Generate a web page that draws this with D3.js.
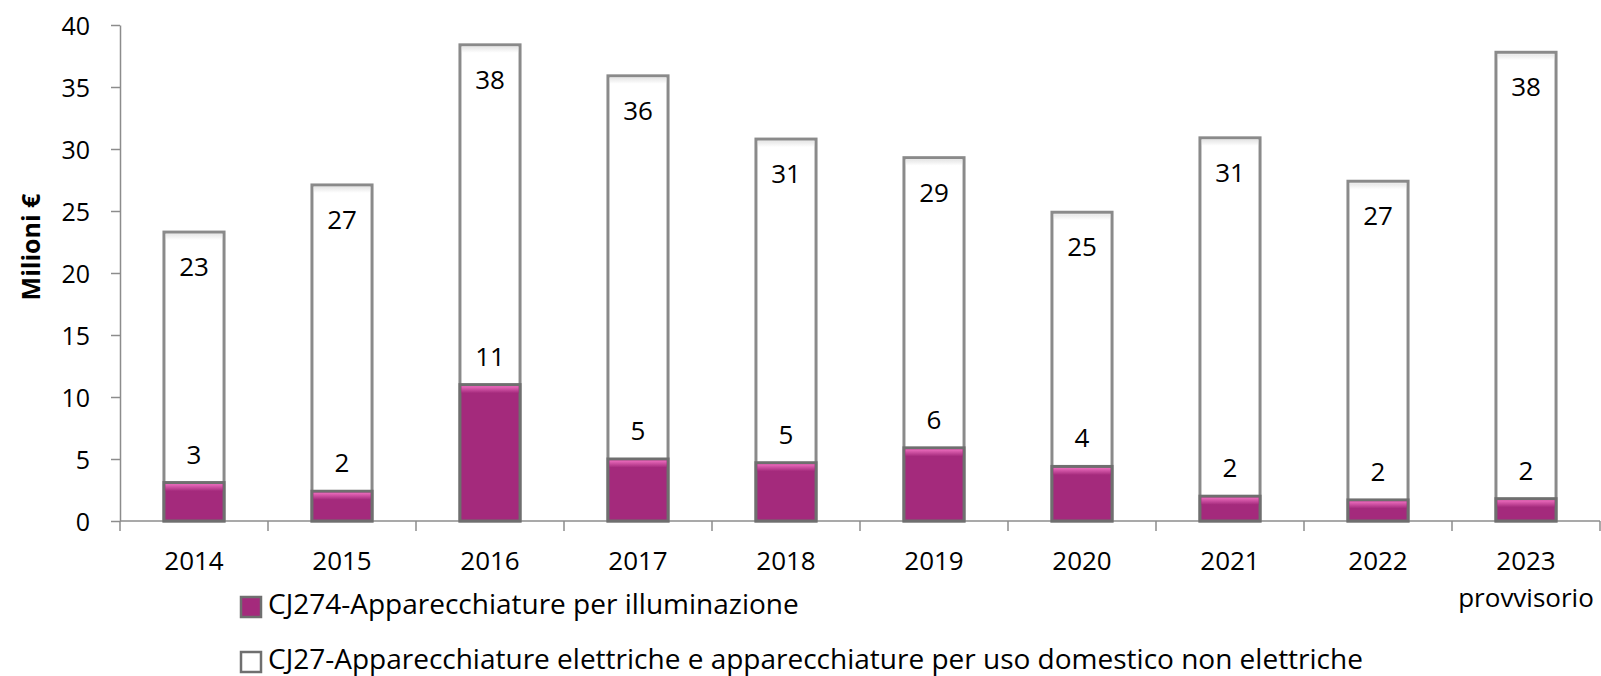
<!DOCTYPE html>
<html>
<head>
<meta charset="utf-8">
<script src="https://d3js.org/d3.v7.min.js"></script>
<style>
  body { margin: 0; background: #fff; }
  svg text { font-family: "Open Sans", "DejaVu Sans", sans-serif; fill: #000; }
</style>
</head>
<body>
<svg width="1601" height="676"></svg>
<script>
// data
var years = ["2014", "2015", "2016", "2017", "2018", "2019", "2020", "2021", "2022", "2023"];
var tickLabels = [["2014"], ["2015"], ["2016"], ["2017"], ["2018"], ["2019"], ["2020"], ["2021"], ["2022"], ["2023", "provvisorio"]];
var cj27 = [23.3, 27.1, 38.4, 35.9, 30.8, 29.3, 24.9, 30.9, 27.4, 37.8];
var cj274 = [3.1, 2.4, 11.0, 5.0, 4.7, 5.9, 4.4, 2.0, 1.7, 1.8];
var yTicks = [0, 5, 10, 15, 20, 25, 30, 35, 40];
var seriesNames = ["CJ274-Apparecchiature per illuminazione",
  "CJ27-Apparecchiature elettriche e apparecchiature per uso domestico non elettriche"];

var svg = d3.select("svg");
var mLeft = 120, mRight = 1600, mTop = 25, mBottom = 521;

var x = d3.scaleBand().domain(years).range([mLeft, mRight])
  .paddingInner(0.594).paddingOuter(0.297);
var y = d3.scaleLinear().domain([0, 40]).range([mBottom, mTop]);

var defs = svg.append("defs");
var grad = defs.append("linearGradient").attr("id", "topglow")
  .attr("x1", 0).attr("y1", 0).attr("x2", 0).attr("y2", 1);
grad.append("stop").attr("offset", "0%").attr("stop-color", "#ec6cbd");
grad.append("stop").attr("offset", "100%").attr("stop-color", "#a42a7c");
var wgrad = defs.append("linearGradient").attr("id", "whitetop")
  .attr("x1", 0).attr("y1", 0).attr("x2", 0).attr("y2", 1);
wgrad.append("stop").attr("offset", "0%").attr("stop-color", "#e6e6e6");
wgrad.append("stop").attr("offset", "100%").attr("stop-color", "#ffffff");

// y axis
var yAxis = svg.append("g")
  .attr("transform", "translate(" + mLeft + ",0)")
  .call(d3.axisLeft(y).tickValues(yTicks).tickSize(9).tickSizeOuter(0).tickPadding(21));
yAxis.select(".domain").attr("stroke", "#8c8c8c").attr("stroke-width", 1.5);
yAxis.selectAll(".tick line").attr("stroke", "#8c8c8c").attr("stroke-width", 1.5);
yAxis.selectAll(".tick text").style("font-size", "25px").attr("dy", "0.36em");

// x axis: line, ticks at category boundaries
var step = x.step();
var bounds = years.map(function(d) { return x(d) - (step - x.bandwidth()) / 2; });
bounds.push(mRight);
svg.append("line").attr("x1", mLeft).attr("x2", mRight).attr("y1", mBottom).attr("y2", mBottom)
  .attr("stroke", "#8c8c8c").attr("stroke-width", 1.5);
svg.selectAll(".xtick").data(bounds).enter().append("line")
  .attr("class", "xtick")
  .attr("x1", function(d) { return d; }).attr("x2", function(d) { return d; })
  .attr("y1", mBottom).attr("y2", mBottom + 10)
  .attr("stroke", "#8c8c8c").attr("stroke-width", 1.5);

var xl = svg.selectAll(".xlab").data(years).enter().append("text")
  .attr("class", "xlab")
  .attr("text-anchor", "middle")
  .attr("y", 570)
  .style("font-size", "26px");
xl.each(function(d, i) {
  var t = d3.select(this);
  tickLabels[i].forEach(function(s, k) {
    t.append("tspan").attr("x", x(d) + x.bandwidth() / 2).attr("dy", k === 0 ? 0 : 37).text(s);
  });
});

// white bars (CJ27)
svg.selectAll(".wbar").data(years).enter().append("rect")
  .attr("class", "wbar")
  .attr("x", function(d) { return x(d); })
  .attr("y", function(d, i) { return y(cj27[i]); })
  .attr("width", x.bandwidth())
  .attr("height", function(d, i) { return mBottom - y(cj27[i]); })
  .attr("fill", "#fff").attr("stroke", "#8a8a8a").attr("stroke-width", 3);
svg.selectAll(".wtop").data(years).enter().append("rect")
  .attr("x", function(d) { return x(d) + 2; })
  .attr("y", function(d, i) { return y(cj27[i]) + 2; })
  .attr("width", x.bandwidth() - 4).attr("height", 6)
  .attr("fill", "url(#whitetop)");

// magenta bars (CJ274)
svg.selectAll(".mbar").data(years).enter().append("rect")
  .attr("class", "mbar")
  .attr("x", function(d) { return x(d); })
  .attr("y", function(d, i) { return y(cj274[i]); })
  .attr("width", x.bandwidth())
  .attr("height", function(d, i) { return mBottom - y(cj274[i]); })
  .attr("fill", "#a42a7c").attr("stroke", "#6f6f6f").attr("stroke-width", 3);
svg.selectAll(".mtop").data(years).enter().append("rect")
  .attr("x", function(d) { return x(d) + 1.5; })
  .attr("y", function(d, i) { return y(cj274[i]) + 1.5; })
  .attr("width", x.bandwidth() - 3).attr("height", 7)
  .attr("fill", "url(#topglow)");

// value labels
svg.selectAll(".wlab").data(years).enter().append("text")
  .attr("text-anchor", "middle")
  .attr("x", function(d) { return x(d) + x.bandwidth() / 2; })
  .attr("y", function(d, i) { return y(cj27[i]) + 44; })
  .style("font-size", "26px")
  .text(function(d, i) { return Math.round(cj27[i]); });
svg.selectAll(".mlab").data(years).enter().append("text")
  .attr("text-anchor", "middle")
  .attr("x", function(d) { return x(d) + x.bandwidth() / 2; })
  .attr("y", function(d, i) { return y(cj274[i]) - 19; })
  .style("font-size", "26px")
  .text(function(d, i) { return Math.round(cj274[i]); });

// y title
svg.append("text")
  .attr("transform", "translate(40,247) rotate(-90)")
  .attr("text-anchor", "middle")
  .style("font-size", "25px").style("font-weight", "bold")
  .text("Milioni €");

// legend
var legFill = ["#a42a7c", "#ffffff"];
var legY = [597, 652];
seriesNames.forEach(function(name, i) {
  svg.append("rect").attr("x", 241).attr("y", legY[i]).attr("width", 20).attr("height", 20)
    .attr("fill", legFill[i]).attr("stroke", "#6f6f6f").attr("stroke-width", 2.5);
  svg.append("text").attr("x", 268).attr("y", legY[i] + 17)
    .style("font-size", "28px").text(name);
});
</script>
</body>
</html>
